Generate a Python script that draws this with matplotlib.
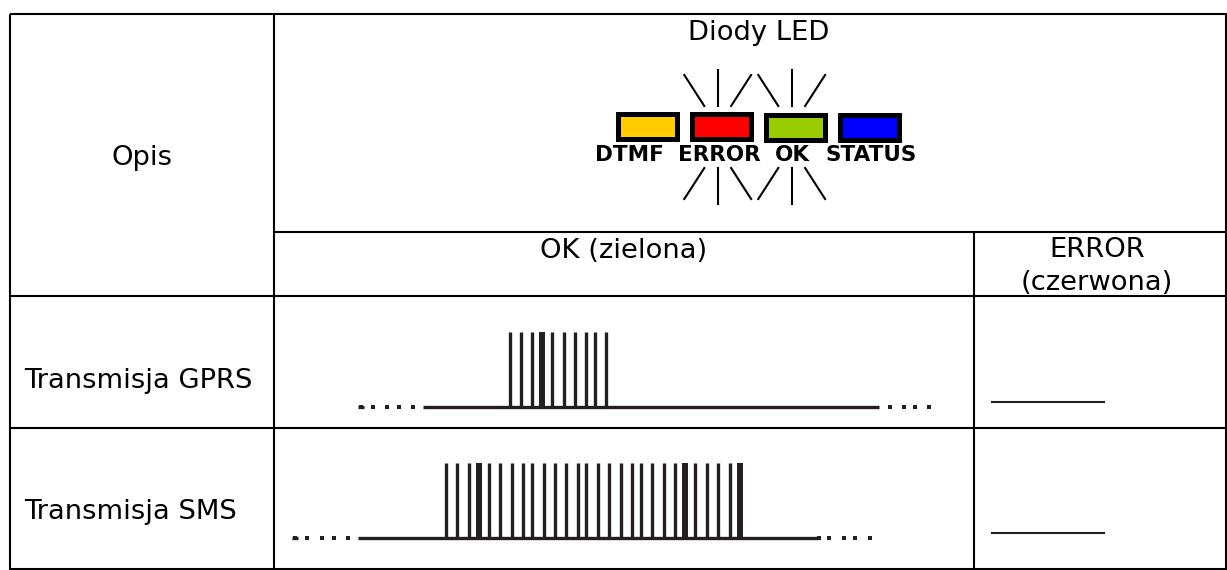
import matplotlib
matplotlib.use("Agg")
import matplotlib.pyplot as plt
from matplotlib.patches import Rectangle

# pulse positions, x in pixels
gprs_pulses = [509.5, 520.5, 532, 551.5, 563.5, 574.5, 586, 594.5, 606]
gprs_wide = [542]
gprs_dots_left = [361, 373, 387, 399, 413]
gprs_dots_right = [890, 904, 915, 929]

sms_pulses = [445.5, 457, 468.5, 488.5, 500, 511.5, 523, 531.5, 543.5, 554.5, 565.5, 577.5,
              585.5, 597.5, 609, 620.5, 631.5, 640.5, 652, 663.5, 675, 694.5, 706.5, 717.5, 729.5]
sms_wide = [478.5, 685, 739.5]
sms_dots_left = [295, 307, 322, 334, 348]
sms_dots_right = [819, 829, 844, 855, 870]

led_names = ["DTMF", "ERROR", "OK", "STATUS"]
led_colors = ["#ffcc00", "#ff0000", "#99cc00", "#0000ff"]
led_left = [617.5, 691.5, 766, 840]
led_top = [114, 114, 115, 115]
led_text_x = [629.5, 719.5, 792.5, 871]

DARK = "#231f20"

fig = plt.figure(figsize=(12.27, 5.7), dpi=100)
ax = fig.add_axes([0, 0, 1, 1])
ax.set_xlim(0, 1227)
ax.set_ylim(570, 0)
ax.axis("off")
plt.rcParams["font.family"] = ["DejaVu Sans"]

# table grid
grid = dict(color="black", linewidth=1.5, solid_capstyle="butt")
ax.plot([10, 1227], [14, 14], **grid)
ax.plot([10, 1227], [296, 296], **grid)
ax.plot([10, 1227], [428, 428], **grid)
ax.plot([274, 1227], [232, 232], **grid)
ax.plot([10, 1227], [569, 569], **grid)
ax.plot([10, 10], [14, 570], **grid)
ax.plot([274, 274], [14, 570], **grid)
ax.plot([974, 974], [232, 570], **grid)
ax.plot([1226, 1226], [14, 570], **grid)

# cell texts
fs = 19.7
ax.text(142, 158, "Opis", ha="center", va="center", fontsize=fs)
ax.text(759, 33, "Diody LED", ha="center", va="center", fontsize=fs)
ax.text(624, 251, "OK (zielona)", ha="center", va="center", fontsize=fs)
ax.text(1097, 250, "ERROR", ha="center", va="center", fontsize=fs)
ax.text(1097, 283, "(czerwona)", ha="center", va="center", fontsize=fs)
ax.text(24, 381, "Transmisja GPRS", ha="left", va="center", fontsize=fs)
ax.text(24, 512, "Transmisja SMS", ha="left", va="center", fontsize=fs)

# LEDs
for name, col, x, y, tx in zip(led_names, led_colors, led_left, led_top, led_text_x):
    ax.add_patch(Rectangle((x, y), 59, 25, facecolor=col, edgecolor="black", linewidth=3.6))
    ax.text(tx, 155, name, ha="center", va="center", fontsize=15.5, fontweight="bold")

# rays around ERROR and OK
ray = dict(color="black", linewidth=1.5)
for cx in [717.7, 791.7]:
    ax.plot([cx - 33.4, cx - 13.4], [75, 106], **ray)
    ax.plot([cx, cx], [70, 106], **ray)
    ax.plot([cx + 33.4, cx + 13.4], [75, 106], **ray)
    ax.plot([cx - 13.4, cx - 33.4], [168, 199], **ray)
    ax.plot([cx, cx], [168, 204], **ray)
    ax.plot([cx + 13.4, cx + 33.4], [168, 199], **ray)

# pulse trains
def draw_train(pulses, wide, top, base, x0, x1, dots_l, dots_r):
    ax.vlines(pulses, top, base, color=DARK, linewidth=2.4)
    ax.vlines(wide, top, base, color=DARK, linewidth=4.3)
    ax.plot([x0, x1], [base, base], color=DARK, linewidth=2.4, solid_capstyle="butt")
    ax.plot(dots_l + dots_r, [base] * (len(dots_l) + len(dots_r)), ls="none", marker="s",
            ms=2.6, mew=0, color=DARK)
    ax.plot([dots_l[0] - 3, dots_l[0] + 3], [base, base], color=DARK, linewidth=2.4, solid_capstyle="butt")

draw_train(gprs_pulses, gprs_wide, 332, 407, 423, 879, gprs_dots_left, gprs_dots_right)
draw_train(sms_pulses, sms_wide, 463, 538, 358, 818, sms_dots_left, sms_dots_right)

# ERROR column lines
ax.plot([991, 1105], [402, 402], color=DARK, linewidth=1.5, solid_capstyle="butt")
ax.plot([991, 1105], [533, 533], color=DARK, linewidth=1.5, solid_capstyle="butt")

fig.savefig("out.png", dpi=100)
